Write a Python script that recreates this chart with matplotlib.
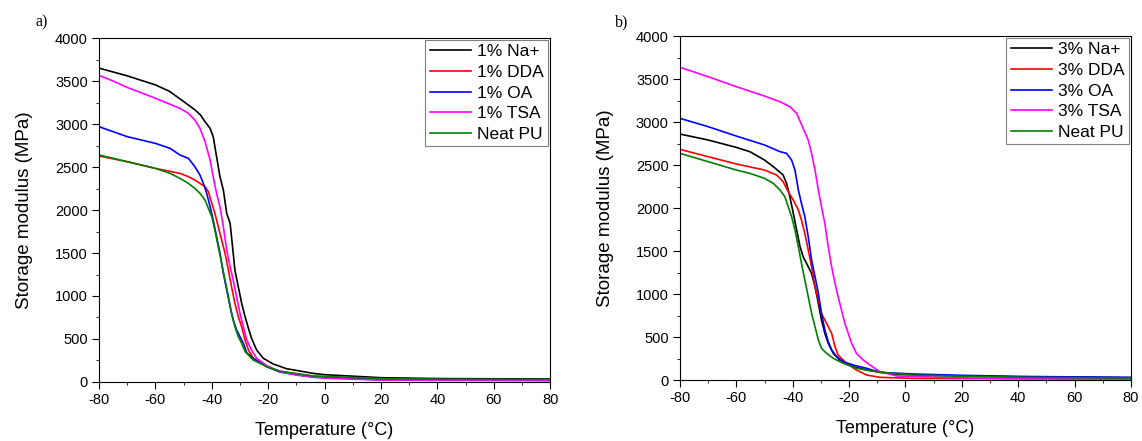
import matplotlib
matplotlib.use("Agg")
import matplotlib.pyplot as plt
from matplotlib.ticker import MultipleLocator

plt.rcParams['font.family'] = ['Liberation Sans', 'DejaVu Sans']
plt.rcParams['axes.unicode_minus'] = False

# ---- panel a: 1% loadings ----
a_na_T = [-80, -70, -60, -55, -50, -46, -44, -42.4, -40.6, -39.5, -38.3, -37.1, -35.9, -34.7, -33.5,
          -33, -32.4, -31.8, -30.6, -29.4, -28.2, -27, -25.9, -24.1, -21.7, -18.2, -13.5, -4, 0, 20, 40, 80]
a_na_M = [3650, 3560, 3455, 3380, 3262, 3165, 3105, 3027, 2950, 2853, 2620, 2388, 2233, 1961, 1845,
          1690, 1496, 1302, 1108, 915, 760, 624, 508, 372, 275, 209, 155, 100, 85, 50, 40, 35]

a_dda_T = [-80, -70, -60, -51.3, -48.3, -46, -44.2, -42.4, -41.2, -40, -38.9, -37.7, -36.5, -35.3, -34.1,
           -33, -31.8, -30.6, -29.4, -28.2, -27, -25.3, -20.5, -15.8, -4, 20, 40, 80]
a_dda_M = [2628, 2562, 2484, 2426, 2388, 2349, 2310, 2271, 2213, 2078, 1961, 1806, 1651, 1496, 1302,
           1108, 915, 760, 643, 488, 372, 275, 178, 125, 65, 35, 28, 25]

a_oa_T = [-80, -70, -60, -54.8, -51.3, -48.3, -46, -44.2, -43, -41.8, -40.6, -39.5, -38.3, -37.1, -35.9,
          -34.7, -33.5, -32.4, -31.2, -30, -28.8, -27.6, -25.3, -20.5, -15.8, -4, 20, 40, 80]
a_oa_M = [2969, 2853, 2775, 2717, 2640, 2601, 2504, 2407, 2310, 2194, 2039, 1884, 1690, 1496, 1264,
          1070, 876, 721, 605, 527, 450, 340, 275, 178, 115, 55, 25, 20, 18]

a_tsa_T = [-80, -75, -70, -60, -51.3, -48.3, -46, -44.2, -42.4, -40.6, -39.5, -38.3, -37.1, -35.9, -34.7,
           -33.5, -32.4, -31.2, -30, -28.8, -27.6, -25.9, -24.1, -20.5, -15.8, -10, 0, 20, 40, 80]
a_tsa_M = [3565, 3500, 3425, 3300, 3182, 3124, 3047, 2950, 2795, 2581, 2388, 2194, 2039, 1806, 1535,
           1341, 1186, 992, 798, 643, 488, 372, 275, 190, 120, 80, 45, 22, 20, 18]

a_neat_T = [-80, -70, -60, -54.8, -51.3, -48.3, -46, -44.2, -42.4, -41.2, -40, -38.9, -37.7, -36.5, -35.3,
            -34.1, -33, -31.8, -30.6, -29.4, -28.2, -27, -25.3, -20.5, -15.8, -4, 20, 40, 80]
a_neat_M = [2640, 2562, 2484, 2426, 2368, 2310, 2252, 2194, 2116, 2019, 1922, 1767, 1574, 1380, 1186,
            992, 798, 643, 527, 450, 353, 314, 256, 178, 125, 70, 40, 32, 30]

# ---- panel b: 3% loadings ----
b_na_T = [-80, -70, -60, -55.2, -50, -46.9, -43.4, -42.2, -41, -39.8, -38.6, -37.4, -36.3, -35.1, -33.3,
          -32.1, -30.9, -29.8, -28.6, -27.4, -25.6, -23.3, -18.5, -13.8, -3.2, 19.3, 40, 80]
b_na_M = [2860, 2791, 2705, 2655, 2558, 2481, 2384, 2287, 2132, 1938, 1744, 1550, 1434, 1357, 1240,
          1085, 891, 698, 543, 426, 310, 233, 155, 116, 66, 47, 38, 28]

b_dda_T = [-80, -70, -60, -50, -45.7, -43.4, -41.6, -39.8, -38, -36.9, -35.7, -34.5, -33.3, -32.1, -30.9,
           -29.8, -28, -26.2, -25, -23.9, -20.9, -17.4, -13.8, -9.1, 2.7, 40, 80]
b_dda_M = [2682, 2597, 2512, 2442, 2384, 2306, 2190, 2093, 1977, 1860, 1705, 1512, 1318, 1085, 930,
           775, 659, 543, 388, 291, 194, 116, 58, 31, 19, 14, 12]

b_oa_T = [-80, -70, -60, -50, -44.5, -42.2, -40.4, -39.2, -38, -36.9, -35.7, -34.5, -33.3, -32.1, -30.9,
          -29.8, -28.6, -27.4, -26.2, -24.4, -22.1, -18.5, -13.8, -9.1, 2.7, 19.3, 40, 80]
b_oa_M = [3043, 2946, 2837, 2733, 2655, 2636, 2558, 2442, 2209, 2054, 1899, 1667, 1395, 1202, 1008,
          775, 581, 446, 349, 271, 213, 174, 136, 89, 70, 55, 42, 30]

b_tsa_T = [-80, -70, -60, -50, -44.5, -41, -38.6, -36.3, -34.5, -33.3, -32.1, -30.9, -29.8, -28.6, -27.4,
           -26.2, -25, -23.9, -22.7, -21.5, -20.3, -19.1, -17.4, -15, -12.6, -9.1, -3.2, 19.3, 40, 80]
b_tsa_M = [3636, 3527, 3411, 3302, 3236, 3178, 3101, 2926, 2791, 2636, 2442, 2209, 2016, 1822, 1550,
           1318, 1124, 969, 814, 659, 543, 426, 310, 233, 174, 97, 47, 25, 18, 14]

b_neat_T = [-80, -70, -60, -55.2, -50, -46.9, -44.5, -42.8, -41.6, -40.4, -39.2, -38, -36.9, -35.7, -34.5,
            -33.3, -32.1, -30.9, -29.8, -28, -25.6, -22.1, -17.4, -9.1, 2.7, 19.3, 40, 80]
b_neat_M = [2636, 2539, 2442, 2403, 2345, 2287, 2209, 2132, 2016, 1899, 1744, 1550, 1357, 1163, 969,
            775, 620, 465, 368, 310, 252, 194, 136, 89, 58, 45, 32, 22]

colors = ['black', 'red', 'blue', 'magenta', 'green']

panels = [
    dict(rect=[0.0867, 0.1338, 0.395, 0.780], tag='a)', tagx=0.031,
         labels=['1% Na+', '1% DDA', '1% OA', '1% TSA', 'Neat PU'],
         data=[(a_na_T, a_na_M), (a_dda_T, a_dda_M), (a_oa_T, a_oa_M),
               (a_tsa_T, a_tsa_M), (a_neat_T, a_neat_M)]),
    dict(rect=[0.5954, 0.1383, 0.395, 0.780], tag='b)', tagx=0.5385,
         labels=['3% Na+', '3% DDA', '3% OA', '3% TSA', 'Neat PU'],
         data=[(b_na_T, b_na_M), (b_dda_T, b_dda_M), (b_oa_T, b_oa_M),
               (b_tsa_T, b_tsa_M), (b_neat_T, b_neat_M)]),
]

fig = plt.figure(figsize=(11.42, 4.41), dpi=100)

for p in panels:
    ax = fig.add_axes(p['rect'])
    for (T, M), c, lab in zip(p['data'], colors, p['labels']):
        ax.plot(T, M, color=c, lw=1.2, label=lab)
    ax.set_xlim(-80, 80)
    ax.set_ylim(0, 4000)
    ax.xaxis.set_major_locator(MultipleLocator(20))
    ax.xaxis.set_minor_locator(MultipleLocator(10))
    ax.yaxis.set_major_locator(MultipleLocator(500))
    ax.yaxis.set_minor_locator(MultipleLocator(250))
    ax.tick_params(which='both', direction='out', top=False, right=False, labelsize=10.5, pad=3)
    ax.tick_params(which='major', length=5)
    ax.tick_params(which='minor', length=2.5)
    ax.set_xlabel('Temperature (°C)', fontsize=13, labelpad=11)
    ax.set_ylabel('Storage modulus (MPa)', fontsize=13.5, labelpad=16)
    leg = ax.legend(loc='upper right', fontsize=12.5, fancybox=False, framealpha=1,
                    borderaxespad=0.1, handlelength=2.4, labelspacing=0.32,
                    borderpad=0.25, handletextpad=0.35)
    leg.get_frame().set_edgecolor('gray')
    leg.get_frame().set_linewidth(0.8)
    fig.text(p['tagx'], 0.94, p['tag'], fontsize=11.5, family='Liberation Serif')

fig.savefig('out.png', dpi=100)
